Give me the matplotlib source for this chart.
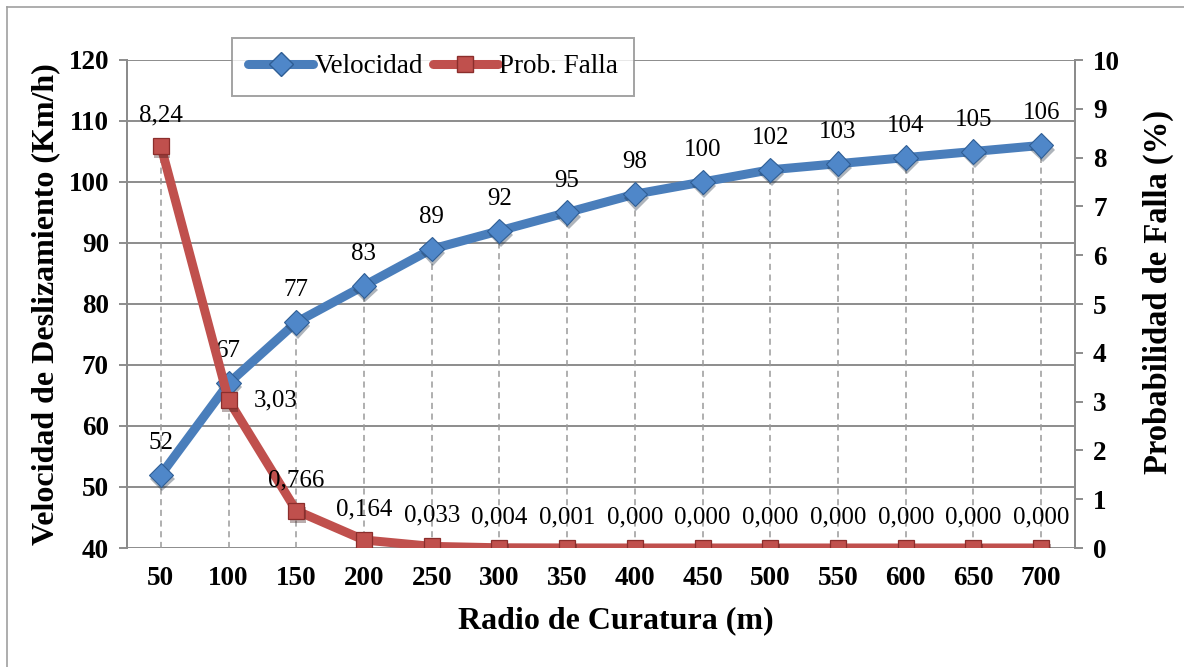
import matplotlib
matplotlib.use("Agg")
import matplotlib.pyplot as plt
import matplotlib.patheffects as pe
from matplotlib.lines import Line2D

plt.rcParams["font.family"] = ["Liberation Serif", "DejaVu Serif"]

radios = [50, 100, 150, 200, 250, 300, 350, 400, 450, 500, 550, 600, 650, 700]
velocidad = [52, 67, 77, 83, 89, 92, 95, 98, 100, 102, 103, 104, 105, 106]
prob_falla = [8.24, 3.03, 0.766, 0.164, 0.033, 0.004, 0.001, 0.0, 0.0, 0.0, 0.0, 0.0, 0.0, 0.0]

V_MIN, V_MAX = 40, 120
P_MIN, P_MAX = 0, 10

AZUL = "#4A7EBB"
ROJO = "#C0504D"
GRIS = "#8C8C8C"


def fmt_prob(v):
    s = f"{v:.2f}" if v >= 1 else f"{v:.3f}"
    return s.replace(".", ",")


fig = plt.figure(figsize=(11.84, 6.67), dpi=100)
ax = fig.add_axes([127 / 1184, 1 - 548 / 667, 948 / 1184, 488 / 667])
ax2 = ax.twinx()

x = list(range(len(radios)))
ax.set_xlim(-0.5, len(radios) - 0.5)
ax.set_ylim(V_MIN, V_MAX)
ax2.set_ylim(P_MIN, P_MAX)

# rejilla horizontal
ax.set_yticks(range(V_MIN, V_MAX + 1, 10))
ax2.set_yticks(range(P_MIN, P_MAX + 1, 1))
ax.grid(axis="y", color=GRIS, lw=1.4)
ax.set_axisbelow(True)

for a in (ax, ax2):
    a.spines["top"].set_visible(False)
    a.spines["bottom"].set_visible(False)
    a.spines["left"].set_color(GRIS)
    a.spines["right"].set_color(GRIS)
    a.spines["left"].set_linewidth(1.4)
    a.spines["right"].set_linewidth(1.4)
    a.tick_params(axis="y", color=GRIS, width=1.4, length=6, labelsize=19.5, pad=7)
    for t in a.get_yticklabels():
        t.set_fontweight("bold")
ax.set_xticks(x)
ax.set_xticklabels([str(r) for r in radios], fontsize=19.5, fontweight="bold")
ax.tick_params(axis="x", length=0, pad=13)

# lineas de caida punteadas
for i in x:
    p_en_v = V_MIN + (prob_falla[i] - P_MIN) * (V_MAX - V_MIN) / (P_MAX - P_MIN)
    tope = max(velocidad[i], p_en_v)
    ax.plot([i, i], [V_MIN, tope], color="#9A9A9A", lw=1.1, ls=(0, (4, 3)), zorder=1)

sombra = [pe.SimplePatchShadow(offset=(1, -3), alpha=0.35), pe.Normal()]

ax.plot(x, velocidad, color=AZUL, lw=6.5, solid_capstyle="round", zorder=3)
ax.plot(x, velocidad, ls="none", marker="D", ms=12.5, mfc="#4F87C9", mec="#2F5E95",
        mew=0.8, zorder=4, path_effects=sombra)
ax2.plot(x, prob_falla, color=ROJO, lw=6.5, solid_capstyle="round", zorder=3)
ax2.plot(x, prob_falla, ls="none", marker="s", ms=11.5, mfc="#C0504D", mec="#8B2E2C",
         mew=0.9, zorder=4, path_effects=sombra)

# etiquetas de datos
for i in x:
    ax.annotate(str(velocidad[i]), (i, velocidad[i]), xytext=(0, 23),
                textcoords="offset points", ha="center", va="center", fontsize=18)
    if i == 1:
        off, ha = (18, 0), "left"
    else:
        off, ha = (0, 22), "center"
    ax2.annotate(fmt_prob(prob_falla[i]), (i, prob_falla[i]), xytext=off,
                 textcoords="offset points", ha=ha, va="center", fontsize=18)

ax.set_xlabel("Radio de Curatura (m)", fontsize=23, fontweight="bold")
ax.xaxis.set_label_coords((616 - 127) / 948, -(606 - 548) / 488)
ax.set_ylabel("Velocidad de Deslizamiento (Km/h)", fontsize=23, fontweight="bold")
ax.yaxis.set_label_coords(-(127 - 60) / 948, 0.5)
ax2.set_ylabel("Probabilidad de Falla (%)", fontsize=23.5, fontweight="bold")
ax2.yaxis.set_label_coords(1 + (1143 - 1075) / 948, (548 - 292) / 488)

handles = [
    Line2D([], [], color=AZUL, lw=6.5, solid_capstyle="round", marker="D", ms=12.5,
           mfc="#4F87C9", mec="#2F5E95"),
    Line2D([], [], color=ROJO, lw=6.5, solid_capstyle="round", marker="s", ms=11.5,
           mfc="#C0504D", mec="#8B2E2C"),
]
leg = fig.legend(handles, ["Velocidad", "Prob. Falla"], loc="upper left",
                 bbox_to_anchor=(232 / 1184, 1 - 38 / 667), ncol=2, fontsize=19.5,
                 frameon=True, fancybox=False, edgecolor=GRIS, handlelength=2.4,
                 handletextpad=0.05, columnspacing=0.35, borderpad=0.6,
                 borderaxespad=0)
leg.get_frame().set_linewidth(1.4)

# marco exterior
fig.add_artist(Line2D([7 / 1184, 7 / 1184], [0, 1 - 7 / 667], color="#A0A0A0", lw=1.2))
fig.add_artist(Line2D([7 / 1184, 1], [1 - 7 / 667, 1 - 7 / 667], color="#A0A0A0", lw=1.2))

fig.savefig("out.png", dpi=100)
